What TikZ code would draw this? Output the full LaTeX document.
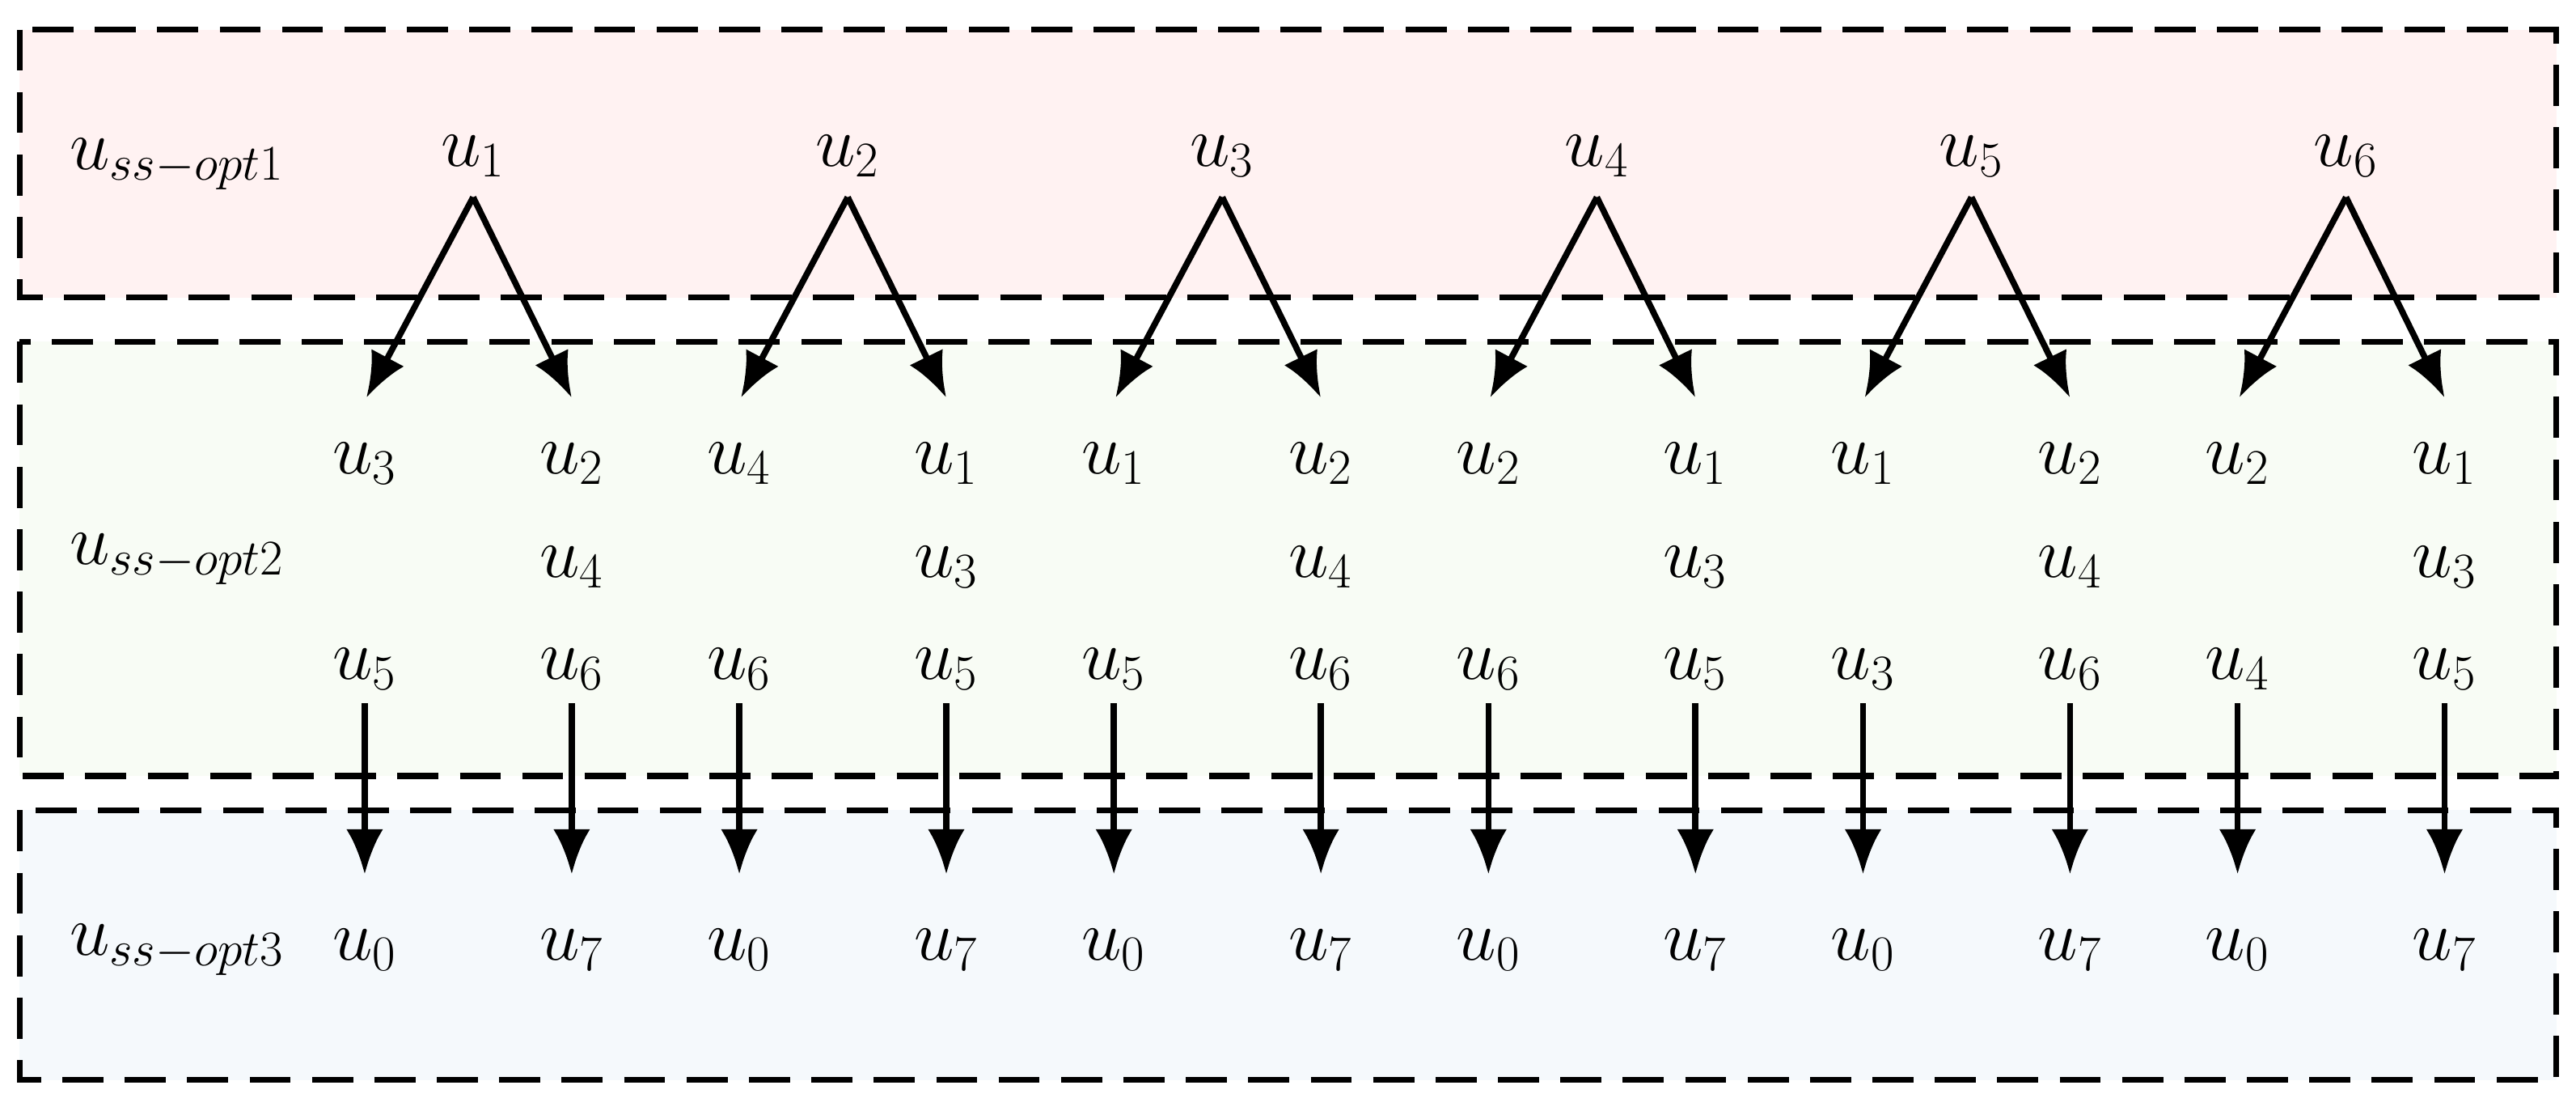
\documentclass[tikz,border=0pt]{standalone}
\usetikzlibrary{arrows.meta}
\definecolor{pinkbg}{RGB}{255,242,242}
\definecolor{greenbg}{RGB}{248,252,245}
\definecolor{bluebg}{RGB}{245,249,252}
\begin{document}
\begin{tikzpicture}[x=0.02cm,y=-0.02cm,
  box/.style={draw=black,line width=0.075cm,dash pattern=on 0.5cm off 0.26cm},
  lab/.style={inner sep=0pt,font=\fontsize{24}{28}\selectfont},
  arr/.style={line width=0.075cm,-{Latex[length=0.55cm,width=0.45cm]}}]
\useasboundingbox (0,0) rectangle (1568,678);
\fill[pinkbg] (12,18) rectangle (1556,181);
\fill[greenbg] (12,208) rectangle (1556,472);
\fill[bluebg] (12,493) rectangle (1556,657);
\draw[box] (12,18) rectangle (1556,181);
\draw[box] (12,208) rectangle (1556,472);
\draw[box] (12,493) rectangle (1556,657);
\node[lab,anchor=west] (l1) at (42,100) {$u_{ss-opt1}$};
\node[lab,anchor=west] (l2) at (42,340) {$u_{ss-opt2}$};
\node[lab,anchor=west] (l3) at (42,578) {$u_{ss-opt3}$};
\foreach \i/\x/\aa/\ab/\ba/\bb/\bc in {1/288/3/5/2/4/6,2/516/4/6/1/3/5,3/744/1/5/2/4/6,4/972/2/6/1/3/5,5/1200/1/3/2/4/6,6/1428/2/4/1/3/5}{
  \node[lab] (t\i) at (\x,95) {$u_{\i}$};
  \coordinate (s\i) at (\x,120);
  \coordinate (el\i) at (\x-65,242);
  \coordinate (er\i) at (\x+60,242);
  \draw[arr] (s\i) -- (el\i);
  \draw[arr] (s\i) -- (er\i);
  \node[lab] (a1\i) at (\x-66,282) {$u_{\aa}$};
  \node[lab] (a3\i) at (\x-66,407) {$u_{\ab}$};
  \node[lab] (b1\i) at (\x+60,282) {$u_{\ba}$};
  \node[lab] (b2\i) at (\x+60,345) {$u_{\bb}$};
  \node[lab] (b3\i) at (\x+60,407) {$u_{\bc}$};
  \coordinate (ds\i) at (\x-66,428);
  \coordinate (de\i) at (\x-66,532);
  \coordinate (fs\i) at (\x+60,428);
  \coordinate (fe\i) at (\x+60,532);
  \draw[arr] (ds\i) -- (de\i);
  \draw[arr] (fs\i) -- (fe\i);
  \node[lab] (z\i) at (\x-66,578) {$u_{0}$};
  \node[lab] (s7\i) at (\x+60,578) {$u_{7}$};
}
\end{tikzpicture}
\end{document}
